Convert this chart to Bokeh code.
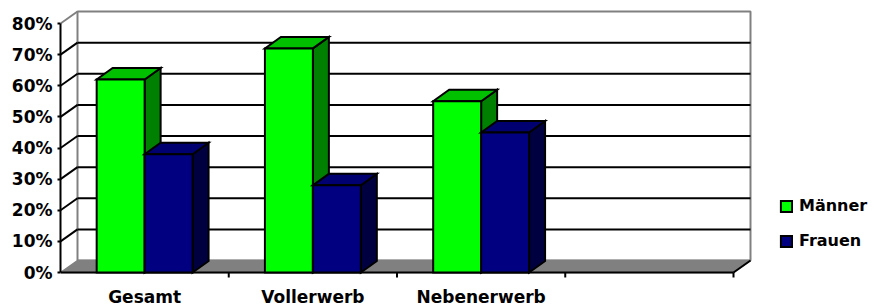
from bokeh.plotting import figure
from bokeh.models import Range1d, FixedTicker, Legend, LegendItem
from bokeh.core.properties import value
from bokeh.embed import file_html
from bokeh.resources import INLINE

# ---------------- data ----------------
categories = ["Gesamt", "Vollerwerb", "Nebenerwerb"]
n_slots = 4  # the category axis has room for four groups (last one empty)
maenner = [62, 72, 55]
frauen = [38, 28, 45]
series_names = ["Männer", "Frauen"]
y_ticks = [0, 10, 20, 30, 40, 50, 60, 70, 80]
y_tick_labels = ["0%", "10%", "20%", "30%", "40%", "50%", "60%", "70%", "80%"]

# ---------------- layout / style ----------------
W, H = 874, 305
FL = 60            # frame left (canvas px)
PX_X = 168.25      # px per category slot
PX_Y = 3.1125      # px per percent
ZERO_SY = 272      # canvas y of 0 %
DX = 17 / PX_X     # depth offset of the walls (data units)
DY = 12 / PX_Y
BDX = 16 / PX_X    # depth offset of the bars
BDY = 11.5 / PX_Y
GAP = 0.215
BW = 0.285
FONT = "DejaVu Sans"

front_cols = ["#00FF00", "#000080"]
top_cols = ["#00C000", "#000070"]
side_cols = ["#008000", "#000040"]

p = figure(width=W, height=H, output_backend="svg", toolbar_location=None,
           x_range=Range1d(0, (W - FL) / PX_X),
           y_range=Range1d(-(H - ZERO_SY) / PX_Y, ZERO_SY / PX_Y),
           min_border_left=FL, min_border_right=0, min_border_top=0, min_border_bottom=0,
           x_axis_location=None, y_axis_location="left")
p.outline_line_color = None
p.grid.visible = False
p.background_fill_color = "white"
p.border_fill_color = "white"

ya = p.yaxis[0]
ya.ticker = FixedTicker(ticks=y_ticks, minor_ticks=[])
ya.major_label_overrides = dict(zip(y_ticks, y_tick_labels))
ya.bounds = (y_ticks[0], y_ticks[-1])
ya.axis_line_color = "black"
ya.axis_line_width = 2
ya.major_tick_line_color = "black"
ya.major_tick_line_width = 2
ya.major_tick_out = 3
ya.major_tick_in = 0
ya.minor_tick_out = 0
ya.minor_tick_in = 0
ya.major_label_standoff = 5
ya.major_label_text_font = FONT
ya.major_label_text_font_style = "bold"
ya.major_label_text_font_size = "17px"
ya.major_label_text_color = "black"

ymax = y_ticks[-1]
# back wall
p.quad(left=DX, right=n_slots + DX, bottom=DY, top=ymax + DY,
       fill_color="white", line_color="#808080", line_width=2)
# back wall gridlines
lv = y_ticks[1:-1]
p.segment(x0=[DX] * len(lv), y0=[v + DY for v in lv],
          x1=[n_slots + DX] * len(lv), y1=[v + DY for v in lv],
          line_color="black", line_width=2)
# side wall lines
p.segment(x0=[0] * len(lv), y0=lv, x1=[DX] * len(lv), y1=[v + DY for v in lv],
          line_color="black", line_width=2)
p.segment(x0=[0], y0=[ymax], x1=[DX], y1=[ymax + DY], line_color="#808080", line_width=2)
# floor
p.patch(x=[0, n_slots, n_slots + DX, DX], y=[0, 0, DY, DY],
        fill_color="#808080", line_color="#808080", line_width=1.5)
p.segment(x0=[0, n_slots], y0=[0, 0], x1=[n_slots, n_slots + DX], y1=[0, DY],
          line_color="black", line_width=2)
# category boundary ticks
bt = list(range(1, n_slots + 1))
p.segment(x0=bt, y0=[0] * len(bt), x1=bt, y1=[-1.6] * len(bt),
          line_color="black", line_width=2)

# bars
front_renderers = []
for s, vals in enumerate([maenner, frauen]):
    x0s = [i + GAP + s * BW for i in range(len(vals))]
    x1s = [x + BW for x in x0s]
    side_xs = [[x1, x1 + BDX, x1 + BDX, x1] for x1 in x1s]
    side_ys = [[0, BDY, v + BDY, v] for v in vals]
    top_xs = [[x0, x1, x1 + BDX, x0 + BDX] for x0, x1 in zip(x0s, x1s)]
    top_ys = [[v, v, v + BDY, v + BDY] for v in vals]
    p.patches(xs=side_xs, ys=side_ys, fill_color=side_cols[s], line_color="black",
              line_width=2, line_join="miter")
    p.patches(xs=top_xs, ys=top_ys, fill_color=top_cols[s], line_color="black",
              line_width=2, line_join="miter")
    r = p.quad(left=x0s, right=x1s, bottom=[0] * len(vals), top=vals,
               fill_color=front_cols[s], line_color="black", line_width=2, line_join="miter")
    front_renderers.append(r)

# category labels
p.text(x=[i + 0.5 for i in range(len(categories))],
       y=[-(296 - ZERO_SY) / PX_Y] * len(categories), text=categories,
       text_align="center", text_baseline="alphabetic", text_color="black",
       text_font=value(FONT), text_font_style="bold", text_font_size="17px")

legend = Legend(items=[LegendItem(label=n, renderers=[r]) for n, r in zip(series_names, front_renderers)],
                location=(719, 55), orientation="vertical",
                glyph_width=14, glyph_height=14, label_standoff=6, spacing=16,
                padding=0, margin=0, border_line_color=None, background_fill_alpha=0,
                label_text_font=FONT, label_text_font_style="bold",
                label_text_font_size="16px", label_text_color="black")
p.add_layout(legend)

open("out.html", "w").write(file_html(p, INLINE))
